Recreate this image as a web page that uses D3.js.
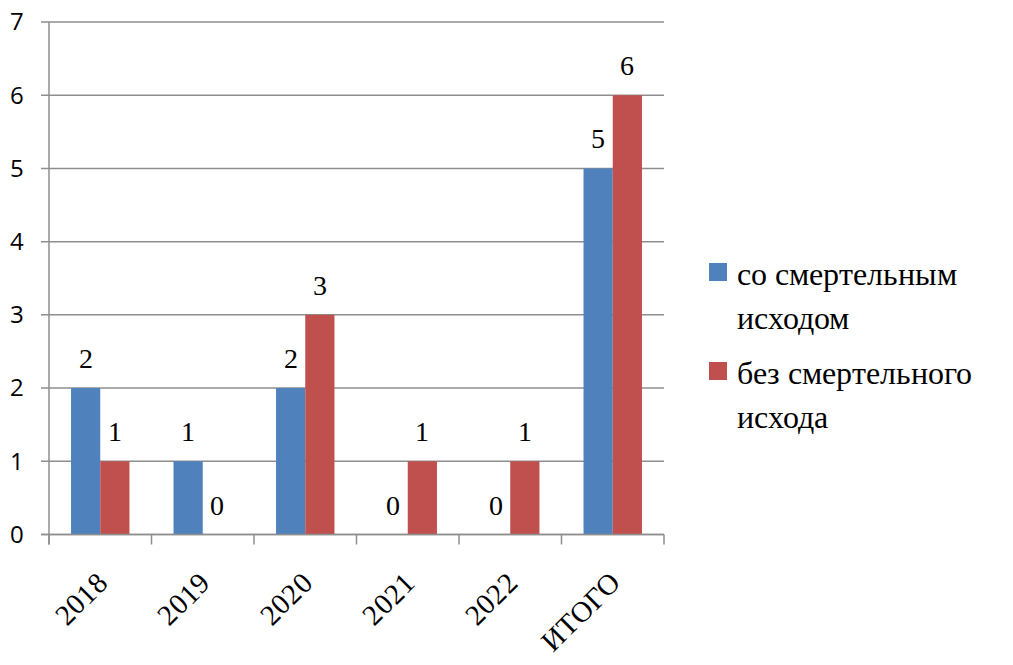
<!DOCTYPE html>
<html>
<head>
<meta charset="utf-8">
<script src="https://cdn.jsdelivr.net/npm/d3@7"></script>
<style>
  @font-face { font-family: "ChartSerif"; src: local("Liberation Serif"), local("Tinos"), local("Times New Roman"); }
  @font-face { font-family: "ChartSans"; src: local("Carlito"), local("Open Sans"); }
</style>
</head>
<body style="margin:0">
<svg id="chart" width="1013" height="665" font-family="Liberation Serif, Tinos, serif"></svg>
<script>
// Categories, series and axis ticks
const categories = ["2018", "2019", "2020", "2021", "2022", "ИТОГО"];
const seriesNames = ["со смертельным исходом", "без смертельного исхода"];
const fatal = [2, 1, 2, 0, 0, 5];
const nonFatal = [1, 0, 3, 1, 1, 6];
const yTicks = [0, 1, 2, 3, 4, 5, 6, 7];
const colors = ["#4F81BD", "#C0504D"];
const legendLines = [["со смертельным", "исходом"], ["без смертельного", "исхода"]];

const svg = d3.select("#chart");
const plot = { left: 49, right: 664, top: 22, bottom: 534.5 };
const serifFont = '"ChartSerif", "Liberation Serif", "Tinos", serif';
const sansFont = '"ChartSans", "Carlito", sans-serif';
const gridColor = "#8e8e8e";

const x = d3.scaleBand().domain(categories).range([plot.left, plot.right]).paddingInner(0).paddingOuter(0);
const y = d3.scaleLinear().domain([0, 7]).range([plot.bottom, plot.top]);
const barW = x.bandwidth() * 0.285;

// Horizontal gridlines with short left ticks
svg.append("g").selectAll("line").data(yTicks).join("line")
  .attr("x1", plot.left - 8).attr("x2", plot.right)
  .attr("y1", d => y(d)).attr("y2", d => y(d))
  .attr("stroke", gridColor).attr("stroke-width", 1.5);

// Y tick labels
svg.append("g").selectAll("text").data(yTicks).join("text")
  .style("font-family", sansFont)
  .attr("x", 24).attr("y", d => y(d))
  .attr("dy", "0.35em")
  .attr("text-anchor", "end")
  .style("font-size", "24px")
  .text(d => d);

// Bars with value labels
const series = [fatal, nonFatal];
series.forEach((vals, s) => {
  svg.append("g").selectAll("rect").data(categories).join("rect")
    .attr("x", c => x(c) + x.bandwidth() / 2 - barW + s * barW)
    .attr("width", barW)
    .attr("y", (c, i) => y(vals[i]))
    .attr("height", (c, i) => y(0) - y(vals[i]))
    .attr("fill", colors[s]);
  svg.append("g").selectAll("text").data(categories).join("text")
    .style("font-family", serifFont)
    .style("font-size", "28px")
    .attr("x", c => x(c) + x.bandwidth() / 2 - barW / 2 + s * barW)
    .attr("y", (c, i) => y(vals[i]) - 20)
    .attr("text-anchor", "middle")
    .text((c, i) => vals[i]);
});

// Axis lines and category ticks
svg.append("line")
  .attr("x1", plot.left).attr("x2", plot.left)
  .attr("y1", plot.top).attr("y2", plot.bottom + 10)
  .attr("stroke", gridColor).attr("stroke-width", 1.5);
svg.append("line")
  .attr("x1", plot.left - 8).attr("x2", plot.right)
  .attr("y1", plot.bottom).attr("y2", plot.bottom)
  .attr("stroke", gridColor).attr("stroke-width", 1.5);
const tickXs = categories.map(c => x(c)).concat([plot.right]);
svg.append("g").selectAll("line").data(tickXs).join("line")
  .attr("x1", d => d).attr("x2", d => d)
  .attr("y1", plot.bottom).attr("y2", plot.bottom + 10)
  .attr("stroke", gridColor).attr("stroke-width", 1.5);

// Rotated category labels
svg.append("g").selectAll("text").data(categories).join("text")
  .style("font-family", serifFont)
  .style("font-size", "29px")
  .attr("transform", c => `translate(${x(c) + x.bandwidth() / 2 + 9},${plot.bottom + 50}) rotate(-45)`)
  .attr("text-anchor", "end")
  .text(c => c);

// Legend
const legendTop = [263, 362];
seriesNames.forEach((name, i) => {
  svg.append("rect")
    .attr("x", 709).attr("y", legendTop[i])
    .attr("width", 18).attr("height", 18)
    .attr("fill", colors[i]);
  svg.append("g").selectAll("text").data(legendLines[i]).join("text")
    .style("font-family", serifFont)
    .style("font-size", "32px")
    .attr("x", 737).attr("y", (d, j) => legendTop[i] + 22 + j * 44)
    .text(d => d);
});
</script>
</body>
</html>
